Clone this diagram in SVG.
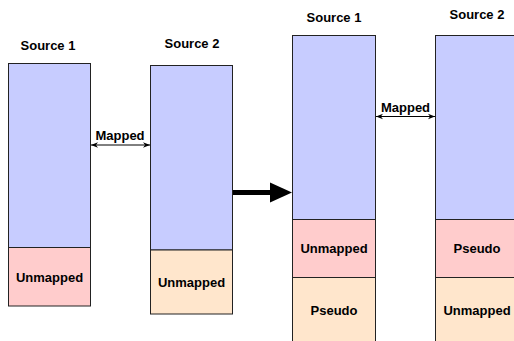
<svg xmlns="http://www.w3.org/2000/svg" width="514" height="341" viewBox="0 0 514 341">
<defs>
<style>
text{font-family:"Liberation Sans",Arial,sans-serif;font-weight:bold;font-size:13px;fill:#000;text-anchor:middle}
.b{fill:#c7ccff;stroke:#222;stroke-width:1}
.r{fill:#ffcccc;stroke:#222;stroke-width:1}
.o{fill:#ffe6cc;stroke:#222;stroke-width:1}
.c{stroke:#000;stroke-width:1;fill:none}
</style>
<marker id="ah" viewBox="0 0 10 10" refX="10" refY="5" markerWidth="7" markerHeight="7" orient="auto-start-reverse" markerUnits="userSpaceOnUse">
<path d="M0,1 L10,5 L0,9 L3,5 Z" fill="#000"/>
</marker>
</defs>
<rect width="514" height="341" fill="#fff"/>
<g id="left-source1">
<text x="48" y="50">Source 1</text>
<rect class="b" x="8.5" y="63.5" width="82" height="184"/>
<rect class="r" x="8.5" y="247.5" width="82" height="58.5"/>
<text x="49.5" y="282">Unmapped</text>
</g>
<g id="left-source2">
<text x="192" y="48">Source 2</text>
<rect class="b" x="150.5" y="65.5" width="82" height="184.5"/>
<rect class="o" x="150.5" y="250" width="82" height="64"/>
<text x="191.5" y="287">Unmapped</text>
</g>
<g id="right-source1">
<text x="334" y="22">Source 1</text>
<rect class="b" x="292.5" y="35.5" width="83" height="184"/>
<rect class="r" x="292.5" y="219.5" width="83" height="58"/>
<text x="334" y="253">Unmapped</text>
<rect class="o" x="292.5" y="277.5" width="83" height="68"/>
<text x="334" y="315">Pseudo</text>
</g>
<g id="right-source2">
<text x="477" y="19">Source 2</text>
<rect class="b" x="435.5" y="35.5" width="83" height="184"/>
<rect class="r" x="435.5" y="219.5" width="83" height="58"/>
<text x="477" y="253">Pseudo</text>
<rect class="o" x="435.5" y="277.5" width="83" height="68"/>
<text x="477" y="315">Unmapped</text>
</g>
<g id="connectors">
<line class="c" x1="91" y1="145" x2="150" y2="145" marker-start="url(#ah)" marker-end="url(#ah)"/>
<text x="120" y="140">Mapped</text>
<line class="c" x1="376" y1="116.5" x2="435" y2="116.5" marker-start="url(#ah)" marker-end="url(#ah)"/>
<text x="405.5" y="111.5">Mapped</text>
<line x1="233" y1="192.5" x2="272" y2="192.5" stroke="#000" stroke-width="5"/>
<path d="M270,182.5 L292,192.5 L270,202.5 Z" fill="#000"/>
</g>
</svg>
